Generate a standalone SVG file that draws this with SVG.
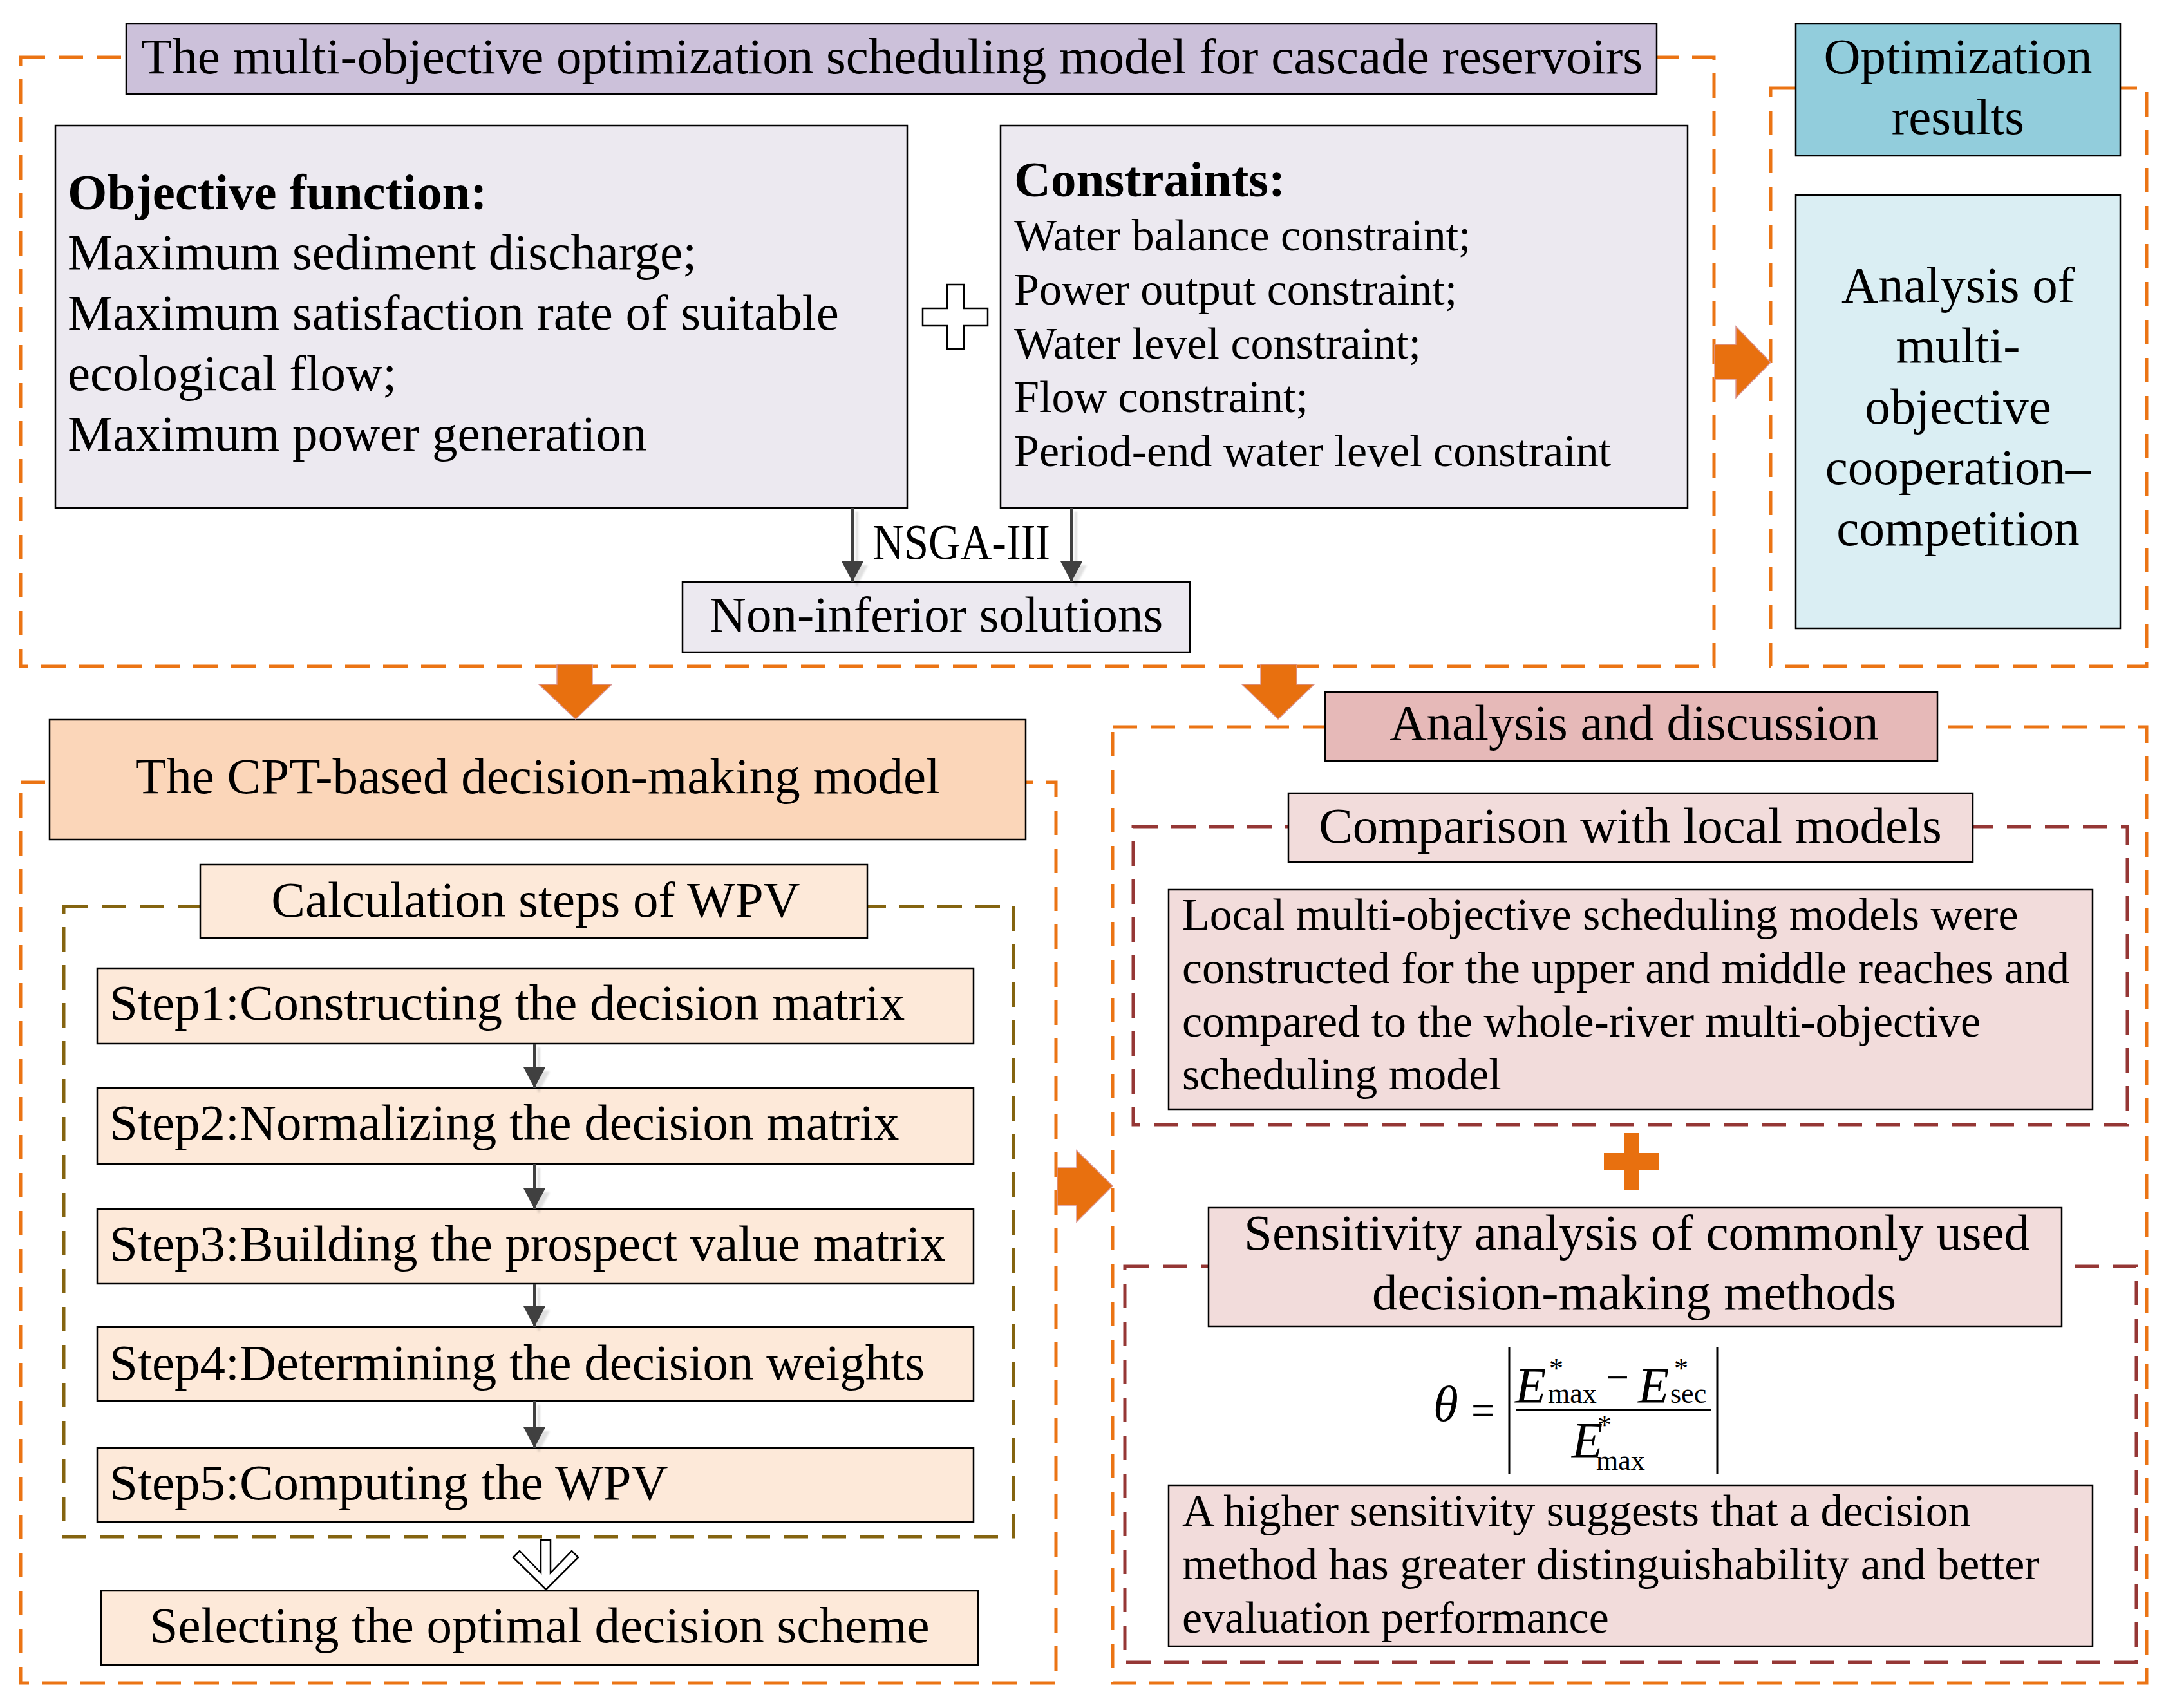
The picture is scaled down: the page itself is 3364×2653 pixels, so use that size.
<svg xmlns="http://www.w3.org/2000/svg" width="3364" height="2653" viewBox="0 0 3364 2653">
<defs>
<style>
text{font-family:"Liberation Serif","Times New Roman",serif;font-size:79px;fill:#000}
.c{text-anchor:middle}
.b{font-weight:bold}
.s2{font-size:70px}
.box{stroke:#000;stroke-width:2.5}
.dor{fill:none;stroke:#EB7414;stroke-width:5;stroke-dasharray:38 21}
.dbr{fill:none;stroke:#846410;stroke-width:5;stroke-dasharray:38 21}
.drd{fill:none;stroke:#953735;stroke-width:5;stroke-dasharray:38 21}
.oar{fill:#E8700F;stroke:#D99594;stroke-width:1.5}
.con{stroke:#404040;stroke-width:4;fill:none}
.it{font-style:italic}
.sm{font-size:44px;font-style:normal}
.op{font-size:64px;font-style:normal}
</style>
<marker id="ah" markerUnits="userSpaceOnUse" markerWidth="34" markerHeight="34" refX="32" refY="17" orient="auto">
<path d="M0,0 L32,17 L0,34 z" fill="#404040"/>
</marker>
<filter id="sh" x="-20%" y="-20%" width="160%" height="160%">
<feDropShadow dx="7" dy="6" stdDeviation="1.5" flood-color="#000" flood-opacity="0.12"/>
</filter>
</defs>
<rect width="3364" height="2653" fill="#fff"/>

<g id="frames">
<rect class="dor" x="32" y="89" width="2630" height="946"/>
<rect class="dor" x="2750" y="137" width="584" height="898"/>
<rect class="dor" x="32" y="1215" width="1608" height="1399"/>
<rect class="dbr" x="99" y="1408" width="1475" height="979"/>
<rect class="dor" x="1728" y="1129" width="1606" height="1485"/>
<rect class="drd" x="1760" y="1284" width="1544" height="463"/>
<rect class="drd" x="1747" y="1967" width="1571" height="615"/>
</g>

<g id="title">
<rect class="box" x="196" y="37" width="2377" height="109" fill="#CCC1DA"/>
<text class="c" x="1385" y="114">The multi-objective optimization scheduling model for cascade reservoirs</text>
</g>

<g id="objective">
<rect class="box" x="86" y="195" width="1323" height="594" fill="#ECE9F0"/>
<text class="b" x="105" y="325">Objective function:</text>
<text x="105" y="418">Maximum sediment discharge;</text>
<text x="105" y="512">Maximum satisfaction rate of suitable</text>
<text x="105" y="606">ecological flow;</text>
<text x="105" y="700">Maximum power generation</text>
</g>

<g id="plus-white">
<path d="M1471,442 H1497 V479 H1534 V506 H1497 V542 H1471 V506 H1433 V479 H1471 Z" fill="#fff" stroke="#000" stroke-width="2.5"/>
</g>

<g id="constraints">
<rect class="box" x="1554" y="195" width="1067" height="594" fill="#ECE9F0"/>
<text class="b" x="1575" y="305">Constraints:</text>
<text class="s2" x="1575" y="389">Water balance constraint;</text>
<text class="s2" x="1575" y="473">Power output constraint;</text>
<text class="s2" x="1575" y="557">Water level constraint;</text>
<text class="s2" x="1575" y="640">Flow constraint;</text>
<text class="s2" x="1575" y="724">Period-end water level constraint</text>
</g>

<g id="noninferior">
<rect class="box" x="1060" y="904" width="788" height="109" fill="#ECE9F0"/>
<text class="c" x="1454" y="981">Non-inferior solutions</text>
</g>

<g id="optres">
<rect class="box" x="2789" y="37" width="504" height="205" fill="#92CDDC"/>
<text class="c" x="3041" y="114">Optimization</text>
<text class="c" x="3041" y="208">results</text>
</g>

<g id="analysis-coop">
<rect class="box" x="2789" y="303" width="504" height="673" fill="#DAEEF3"/>
<text class="c" x="3041" y="469">Analysis of</text>
<text class="c" x="3041" y="563">multi-</text>
<text class="c" x="3041" y="658">objective</text>
<text class="c" x="3041" y="752">cooperation–</text>
<text class="c" x="3041" y="847">competition</text>
</g>

<g id="cpt">
<rect class="box" x="77" y="1118" width="1516" height="186" fill="#FBD6B9"/>
<text class="c" x="835" y="1232">The CPT-based decision-making model</text>
</g>

<g id="calc">
<rect class="box" x="311" y="1343" width="1036" height="114" fill="#FDE9D9"/>
<text class="c" x="832" y="1424">Calculation steps of WPV</text>
</g>

<g id="step1">
<rect class="box" x="151" y="1504" width="1361" height="117" fill="#FDE9D9"/>
<text x="170" y="1584">Step1:Constructing the decision matrix</text>
</g>
<g id="step2">
<rect class="box" x="151" y="1690" width="1361" height="118" fill="#FDE9D9"/>
<text x="170" y="1770">Step2:Normalizing the decision matrix</text>
</g>
<g id="step3">
<rect class="box" x="151" y="1878" width="1361" height="116" fill="#FDE9D9"/>
<text x="170" y="1958">Step3:Building the prospect value matrix</text>
</g>
<g id="step4">
<rect class="box" x="151" y="2061" width="1361" height="115" fill="#FDE9D9"/>
<text x="170" y="2143">Step4:Determining the decision weights</text>
</g>
<g id="step5">
<rect class="box" x="151" y="2249" width="1361" height="115" fill="#FDE9D9"/>
<text x="170" y="2329">Step5:Computing the WPV</text>
</g>

<g id="select">
<rect class="box" x="157" y="2471" width="1362" height="115" fill="#FDE9D9"/>
<text class="c" x="838" y="2551">Selecting the optimal decision scheme</text>
</g>

<g id="discussion">
<rect class="box" x="2058" y="1075" width="951" height="107" fill="#E6B9B8"/>
<text class="c" x="2538" y="1149">Analysis and discussion</text>
</g>

<g id="comparison">
<rect class="box" x="2001" y="1232" width="1063" height="107" fill="#F2DCDB"/>
<text class="c" x="2532" y="1309">Comparison with local models</text>
</g>

<g id="local">
<rect class="box" x="1815" y="1382" width="1435" height="341" fill="#F2DCDB"/>
<text class="s2" x="1836" y="1444">Local multi-objective scheduling models were</text>
<text class="s2" x="1836" y="1527">constructed for the upper and middle reaches and</text>
<text class="s2" x="1836" y="1610">compared to the whole-river multi-objective</text>
<text class="s2" x="1836" y="1692">scheduling model</text>
</g>

<g id="plus-orange">
<path d="M2523,1760 H2545 V1791 H2577 V1817 H2545 V1848 H2523 V1817 H2491 V1791 H2523 Z" fill="#E8700F"/>
</g>

<g id="sensitivity">
<rect class="box" x="1877" y="1876" width="1325" height="184" fill="#F2DCDB"/>
<text class="c" x="2542" y="1941">Sensitivity analysis of commonly used</text>
<text class="c" x="2538" y="2034">decision-making methods</text>
</g>

<g id="formula">
<text class="it" x="2226" y="2207" font-size="68">θ<tspan class="op" x="2285" y="2212">=</tspan></text>
<line x1="2344" y1="2092" x2="2344" y2="2290" stroke="#000" stroke-width="3"/>
<line x1="2667" y1="2092" x2="2667" y2="2290" stroke="#000" stroke-width="3"/>
<line x1="2355" y1="2190" x2="2657" y2="2190" stroke="#000" stroke-width="3.5"/>
<text class="it" x="2353" y="2178" font-size="74">E<tspan class="sm" x="2406" y="2140">*</tspan><tspan class="sm" x="2404" y="2179">max</tspan><tspan class="op" x="2494" y="2161">−</tspan><tspan x="2544" y="2178">E</tspan><tspan class="sm" x="2600" y="2140">*</tspan><tspan class="sm" x="2594" y="2179">sec</tspan></text>
<text class="it" x="2441" y="2263" font-size="74">E<tspan class="sm" x="2481" y="2228">*</tspan><tspan class="sm" x="2479" y="2283">max</tspan></text>
</g>

<g id="higher">
<rect class="box" x="1815" y="2307" width="1435" height="250" fill="#F2DCDB"/>
<text class="s2" x="1836" y="2370">A higher sensitivity suggests that a decision</text>
<text class="s2" x="1836" y="2453">method has greater distinguishability and better</text>
<text class="s2" x="1836" y="2536">evaluation performance</text>
</g>

<g id="connectors">
<g filter="url(#sh)">
<line class="con" x1="1324" y1="789" x2="1324" y2="904" marker-end="url(#ah)"/>
<line class="con" x1="1664" y1="789" x2="1664" y2="904" marker-end="url(#ah)"/>
<line class="con" x1="830" y1="1621" x2="830" y2="1690" marker-end="url(#ah)"/>
<line class="con" x1="830" y1="1808" x2="830" y2="1878" marker-end="url(#ah)"/>
<line class="con" x1="830" y1="1994" x2="830" y2="2061" marker-end="url(#ah)"/>
<line class="con" x1="830" y1="2176" x2="830" y2="2249" marker-end="url(#ah)"/>
</g>
<text x="1355" y="868" font-size="68" textLength="276" lengthAdjust="spacingAndGlyphs">NSGA-III</text>
<path d="M840,2392 H855 V2443 L888,2409 L898,2419 L848,2469 L797,2419 L807,2409 L840,2443 Z" fill="#fff" stroke="#000" stroke-width="2.5"/>
<path class="oar" d="M865,1032 H920 V1063 H950 L894,1117 L837,1063 H865 Z"/>
<path class="oar" d="M1958,1032 H2014 V1063 H2041 L1985,1117 L1929,1063 H1958 Z"/>
<path class="oar" d="M2663,535 H2696 V507 L2750,563 L2696,618 V589 H2663 Z"/>
<path class="oar" d="M1642,1814 H1672 V1787 L1728,1842 L1672,1898 V1872 H1642 Z"/>
</g>
</svg>
